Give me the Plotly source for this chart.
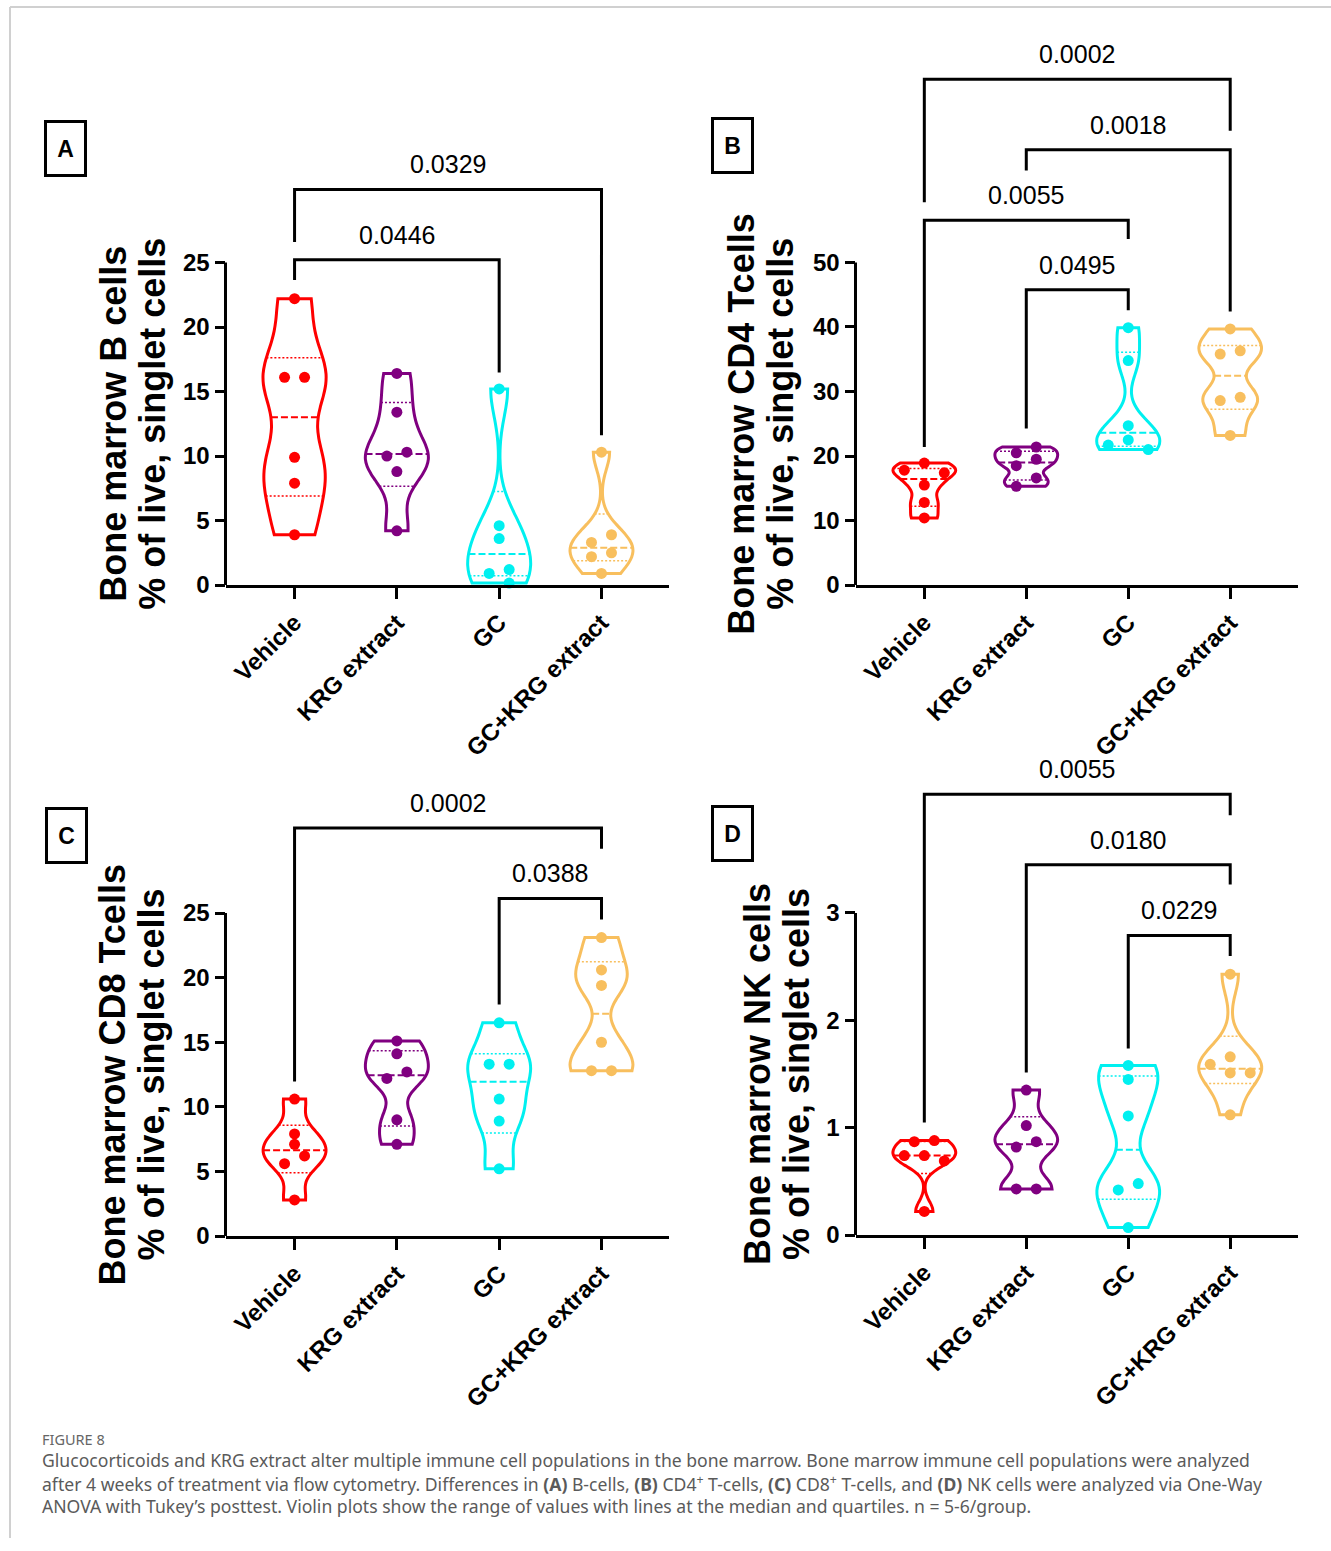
import numpy as np
import plotly.graph_objects as go

W, H = 1331, 1551
FONT = "Liberation Sans, Arial, sans-serif"

groups = ["Vehicle", "KRG extract", "GC", "GC+KRG extract"]
colors = ["#FF0000", "#800080", "#00F0F0", "#F8BF5E"]

# % of live, singlet cells per animal, one list per treatment group
b_cells = [
    [22.2, 16.1, 16.1, 9.9, 7.9, 3.9],
    [16.4, 13.4, 10.3, 10.0, 8.8, 4.2],
    [15.2, 4.6, 3.6, 1.2, 0.9, 0.15],
    [10.3, 3.9, 3.3, 2.5, 2.2, 0.9],
]
cd4_tcells = [
    [18.9, 17.8, 17.4, 15.5, 12.8, 10.4],
    [21.4, 20.5, 19.5, 18.5, 16.6, 15.3],
    [39.9, 34.8, 24.7, 22.5, 21.7, 21.0],
    [39.7, 36.3, 35.8, 29.1, 28.6, 23.2],
]
cd8_tcells = [
    [10.6, 7.9, 7.1, 6.2, 5.6, 2.8],
    [15.1, 14.1, 12.7, 12.2, 9.0, 7.1],
    [16.5, 13.3, 13.3, 10.6, 8.9, 5.2],
    [23.1, 20.6, 19.4, 15.0, 12.8, 12.8],
]
nk_cells = [
    [0.88, 0.87, 0.74, 0.74, 0.69, 0.22],
    [1.35, 1.02, 0.87, 0.82, 0.43, 0.43],
    [1.58, 1.45, 1.11, 0.48, 0.42, 0.07],
    [2.43, 1.66, 1.59, 1.51, 1.51, 1.12],
]

# Tukey post-test comparisons: (group a, group b, p value)
b_tests = [(0, 2, "0.0446"), (0, 3, "0.0329")]
cd4_tests = [(0, 3, "0.0002"), (1, 3, "0.0018"), (0, 2, "0.0055"), (1, 2, "0.0495")]
cd8_tests = [(0, 3, "0.0002"), (2, 3, "0.0388")]
nk_tests = [(0, 3, "0.0055"), (1, 3, "0.0180"), (2, 3, "0.0229")]

# panel geometry (pixels) and bracket placement (bar level, left leg end, right leg end)
panels = [
    dict(letter="A", data=b_cells, tests=b_tests,
         title=["Bone marrow B cells", "% of live, singlet cells"],
         ticks=[0, 5, 10, 15, 20, 25], xpx=(225.5, 669.0), y0px=590.0, ppu=13.01, ytop=31.5,
         title_x=(114, 153), box=(65.8, 149.7),
         brackets=[(25.21, 23.65, 16.47), (30.67, 26.59, 11.61)]),
    dict(letter="B", data=cd4_tcells, tests=cd4_tests,
         title=["Bone marrow CD4 Tcells", "% of live, singlet cells"],
         ticks=[0, 10, 20, 30, 40, 50], xpx=(855.5, 1297.5), y0px=590.0, ppu=6.506, ytop=80.0,
         title_x=(742, 781), box=(732.0, 147.0),
         brackets=[(78.39, 59.33, 70.40), (67.48, 64.25, 42.42),
                   (56.56, 21.41, 53.64), (45.76, 24.28, 42.58)]),
    dict(letter="C", data=cd8_tcells, tests=cd8_tests,
         title=["Bone marrow CD8 Tcells", "% of live, singlet cells"],
         ticks=[0, 5, 10, 15, 20, 25], xpx=(225.5, 669.0), y0px=1246.5, ppu=13.03, ytop=32.5,
         title_x=(113, 152), box=(66.0, 843.0),
         brackets=[(31.58, 11.96, 29.97), (26.13, 17.92, 24.50)]),
    dict(letter="D", data=nk_cells, tests=nk_tests,
         title=["Bone marrow NK cells", "% of live, singlet cells"],
         ticks=[0, 1, 2, 3], xpx=(855.5, 1297.5), y0px=1245.5, ppu=108.27, ytop=4.2,
         title_x=(757, 796), box=(732.0, 841.0),
         brackets=[(4.105, 1.048, 3.91), (3.45, 1.513, 3.265), (2.791, 1.738, 2.60)]),
]

XRANGE = [-0.675, 3.66]
VIOLIN_WIDTH = 0.615
DOT = 11


def kde(vals, bw):
    v = np.asarray(vals, float)

    def f(t):
        t = np.atleast_1d(np.asarray(t, float))
        z = (t[:, None] - v[None, :]) / bw
        return np.exp(-0.5 * z * z).sum(1) / (len(v) * bw * np.sqrt(2 * np.pi))
    return f


def max_density(vals, bw):
    # same sampling grid as the violin trace uses for its outline
    lo, hi = min(vals), max(vals)
    n = int(np.ceil((hi - lo) / (bw / 3)))
    ts = lo + (hi - lo) / n * np.arange(n + 1)
    return kde(vals, bw)(ts).max()


def swarm(vals, ppu_y, ppu_x, step=10):
    vals = np.asarray(vals, float)
    order = np.argsort(-vals, kind="stable")
    offs = np.zeros(len(vals))
    placed = []
    cands = [0]
    for k in range(1, 8):
        cands += [-k * step, k * step]
    for idx in order:
        ypx = vals[idx] * ppu_y
        for c in cands:
            if all(not (abs(ypx - py) < step and abs(c - px) < 2 * step) for py, px in placed):
                offs[idx] = c
                placed.append((ypx, c))
                break
    # centre each run of vertically touching dots
    clusters, cur = [], [order[0]]
    for a, b in zip(order[:-1], order[1:]):
        if (vals[a] - vals[b]) * ppu_y < step:
            cur.append(b)
        else:
            clusters.append(cur)
            cur = [b]
    clusters.append(cur)
    for cl in clusters:
        o = offs[cl]
        offs[cl] = o - (o.min() + o.max()) / 2
    return offs / ppu_x


fig = go.Figure()
shapes, annotations = [], []
layout_axes = {}

for k, p in enumerate(panels):
    sfx = "" if k == 0 else str(k + 1)
    xa, ya = "x" + sfx, "y" + sfx
    x0px, x1px = p["xpx"]
    ppu_x = (x1px - x0px) / (XRANGE[1] - XRANGE[0])
    ytop_px = p["y0px"] - p["ytop"] * p["ppu"]

    layout_axes["xaxis" + sfx] = dict(
        domain=[x0px / W, x1px / W], range=XRANGE, type="linear", anchor=ya,
        tickvals=list(range(len(groups))), ticktext=groups, tickangle=-45,
        tickfont=dict(family=FONT, size=24, color="black", weight="bold"),
        ticks="outside", ticklen=11, tickwidth=3, tickcolor="black",
        showline=True, linewidth=3, linecolor="black",
        showgrid=False, zeroline=False, fixedrange=True)
    layout_axes["yaxis" + sfx] = dict(
        domain=[1 - p["y0px"] / H, 1 - ytop_px / H], range=[0, p["ytop"]], anchor=xa,
        tickvals=p["ticks"], ticks="outside", ticklen=10, tickwidth=3, tickcolor="black",
        tickfont=dict(family=FONT, size=24, color="black", weight="bold"),
        showline=False, showgrid=False, zeroline=False, fixedrange=True)

    # y axis line, only as tall as the labelled scale
    shapes.append(dict(type="line", xref=xa + " domain", yref=ya, x0=0, x1=0,
                       y0=0, y1=p["ticks"][-1], line=dict(color="black", width=3)))

    for i, (vals, col) in enumerate(zip(p["data"], colors)):
        bw = 0.14 * (max(vals) - min(vals))
        fig.add_trace(go.Violin(
            x=[i] * len(vals), y=vals, xaxis=xa, yaxis=ya,
            width=VIOLIN_WIDTH, bandwidth=bw, spanmode="hard",
            scalemode="width", scalegroup=f"{p['letter']}{i}",
            line=dict(color=col, width=3), fillcolor="rgba(0,0,0,0)",
            points=False, box_visible=False, meanline_visible=False,
            showlegend=False, hoverinfo="skip"))

        dens = kde(vals, bw)
        dmax = max_density(vals, bw)
        q1, med, q3 = np.percentile(vals, [25, 50, 75], method="weibull")
        for q, dash, lw in [(q1, "2px,2px", 1.5), (q3, "2px,2px", 1.5), (med, "7px,3px", 2)]:
            hw = VIOLIN_WIDTH / 2 * dens(q)[0] / dmax
            fig.add_trace(go.Scatter(
                x=[i - hw, i + hw], y=[q, q], xaxis=xa, yaxis=ya, mode="lines",
                line=dict(color=col, width=lw, dash=dash),
                showlegend=False, hoverinfo="skip"))

        offs = swarm(vals, p["ppu"], ppu_x)
        fig.add_trace(go.Scatter(
            x=i + offs, y=vals, xaxis=xa, yaxis=ya, mode="markers",
            marker=dict(color=col, size=DOT, line=dict(width=0)),
            cliponaxis=False, showlegend=False, hoverinfo="skip"))

    # significance brackets
    for (a, b, ptxt), (lvl, ya_end, yb_end) in zip(p["tests"], p["brackets"]):
        shapes.append(dict(type="path", xref=xa, yref=ya,
                           path=f"M {a},{ya_end} L {a},{lvl} L {b},{lvl} L {b},{yb_end}",
                           line=dict(color="black", width=3)))
        annotations.append(dict(xref=xa, yref=ya, x=(a + b) / 2, y=lvl, yshift=25,
                                text=ptxt, showarrow=False, xanchor="center", yanchor="middle",
                                font=dict(family=FONT, size=25, color="black")))

    # two-line y axis title
    for line_txt, tx in zip(p["title"], p["title_x"]):
        annotations.append(dict(xref="paper", yref=ya, x=tx / W, y=p["ticks"][-1] / 2,
                                text=line_txt, textangle=-90, showarrow=False,
                                xanchor="center", yanchor="middle",
                                font=dict(family=FONT, size=36, color="black", weight="bold")))

    # boxed panel letter
    bx, by = p["box"]
    annotations.append(dict(xref="paper", yref="paper", x=bx / W, y=1 - by / H,
                            text=p["letter"], showarrow=False, xanchor="center", yanchor="middle",
                            width=37, height=51, borderpad=0, borderwidth=3, bordercolor="black",
                            font=dict(family=FONT, size=23, color="black", weight="bold")))

# page frame
shapes.append(dict(type="line", xref="paper", yref="paper", x0=10 / W, x1=1, y0=1 - 7 / H, y1=1 - 7 / H,
                   line=dict(color="#d0d0d0", width=2)))
shapes.append(dict(type="line", xref="paper", yref="paper", x0=10 / W, x1=10 / W, y0=0, y1=1 - 7 / H,
                   line=dict(color="#d0d0d0", width=2)))

# figure caption
CAP = "Noto Sans, Liberation Sans, sans-serif"
caption = [
    "Glucocorticoids and KRG extract alter multiple immune cell populations in the bone marrow. "
    "Bone marrow immune cell populations were analyzed",
    "after 4 weeks of treatment via flow cytometry. Differences in <b>(A)</b> B-cells, <b>(B)</b> "
    "CD4<sup>+</sup> T-cells, <b>(C)</b> CD8<sup>+</sup> T-cells, and <b>(D)</b> NK cells were "
    "analyzed via One-Way",
    "ANOVA with Tukey’s posttest. Violin plots show the range of values with lines at the median "
    "and quartiles. n = 5-6/group.",
]
annotations.append(dict(xref="paper", yref="paper", x=40 / W, y=1 - 1451 / H, text="FIGURE 8",
                        showarrow=False, xanchor="left", yanchor="middle",
                        font=dict(family=CAP, size=14.5, color="#666666")))
for line_txt, ypx in zip(caption, [1472, 1496, 1519]):
    annotations.append(dict(xref="paper", yref="paper", x=40 / W, y=1 - ypx / H, text=line_txt,
                            showarrow=False, xanchor="left", yanchor="middle",
                            font=dict(family=CAP, size=17.6, color="#5a5a5a")))

fig.update_layout(
    width=W, height=H, margin=dict(l=0, r=0, t=0, b=0),
    paper_bgcolor="white", plot_bgcolor="white",
    font=dict(family=FONT, color="black"),
    violinmode="overlay", showlegend=False,
    shapes=shapes, annotations=annotations, **layout_axes)

fig.write_html("out.html")
